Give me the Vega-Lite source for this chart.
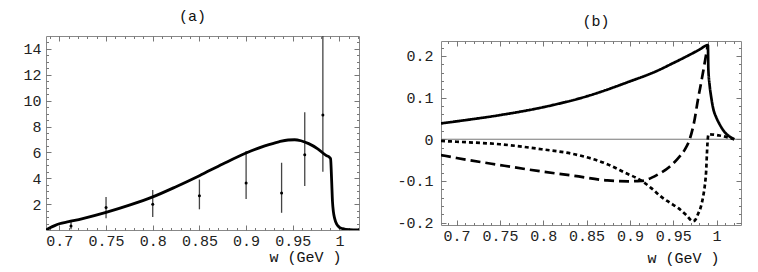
{
  "$schema": "https://vega.github.io/schema/vega-lite/v6.json",
  "background": "white",
  "padding": {"left": 22, "top": 8, "right": 0, "bottom": 15},
  "spacing": 82,
  "bounds": "flush",
  "center": true,
  "config": {
    "view": {"stroke": "#888", "strokeWidth": 1},
    "axis": {"labelFont": "Liberation Mono", "labelFontSize": 15, "labelColor": "#222", "titleFont": "Liberation Mono", "titleFontSize": 15, "titleFontWeight": "normal", "titleColor": "#111", "domain": false, "grid": false, "tickColor": "#777", "tickWidth": 1, "labelFlush": false, "labelOverlap": false},
    "title": {"font": "Liberation Mono", "fontSize": 15, "fontWeight": "normal", "anchor": "middle", "color": "#111"}
  },
  "datasets": {
    "a_curve": [
      {"w": 0.6857, "v": 0}, {"w": 0.69, "v": 0.17}, {"w": 0.695, "v": 0.34}, {"w": 0.7, "v": 0.48}, {"w": 0.71, "v": 0.64},
      {"w": 0.725, "v": 0.88}, {"w": 0.75, "v": 1.36}, {"w": 0.775, "v": 1.92}, {"w": 0.8, "v": 2.56}, {"w": 0.825, "v": 3.35},
      {"w": 0.85, "v": 4.2}, {"w": 0.875, "v": 5.1}, {"w": 0.9, "v": 5.95}, {"w": 0.92, "v": 6.5}, {"w": 0.935, "v": 6.82},
      {"w": 0.945, "v": 6.96}, {"w": 0.952, "v": 6.98}, {"w": 0.9587, "v": 6.9}, {"w": 0.967, "v": 6.68}, {"w": 0.9767, "v": 6.28},
      {"w": 0.9856, "v": 5.77}, {"w": 0.9896, "v": 5.6}, {"w": 0.9905, "v": 5.5}, {"w": 0.9915, "v": 4.0}, {"w": 0.9925, "v": 2.2},
      {"w": 0.9935, "v": 1.4}, {"w": 0.9948, "v": 0.9}, {"w": 0.997, "v": 0.45}, {"w": 1.0, "v": 0.2}, {"w": 1.0034, "v": 0.1},
      {"w": 1.0105, "v": 0.02}, {"w": 1.0209, "v": 0}
    ],
    "a_pts": [
      {"w": 0.7125, "v": 0.3, "lo": 0.05, "hi": 0.62},
      {"w": 0.75, "v": 1.74, "lo": 0.9, "hi": 2.56},
      {"w": 0.8, "v": 2.0, "lo": 1.0, "hi": 3.1},
      {"w": 0.85, "v": 2.64, "lo": 1.6, "hi": 3.9},
      {"w": 0.9, "v": 3.64, "lo": 2.4, "hi": 6.1},
      {"w": 0.938, "v": 2.87, "lo": 1.33, "hi": 5.2},
      {"w": 0.9628, "v": 5.82, "lo": 3.4, "hi": 9.1},
      {"w": 0.9822, "v": 8.9, "lo": 4.5, "hi": 15}
    ],
    "b_lines": [
      {"s": "solid", "w": 0.682, "v": 0.038}, {"s": "solid", "w": 0.7, "v": 0.043}, {"s": "solid", "w": 0.75, "v": 0.058},
      {"s": "solid", "w": 0.8, "v": 0.077}, {"s": "solid", "w": 0.85, "v": 0.103}, {"s": "solid", "w": 0.9, "v": 0.139},
      {"s": "solid", "w": 0.93, "v": 0.163}, {"s": "solid", "w": 0.95, "v": 0.183}, {"s": "solid", "w": 0.97, "v": 0.204},
      {"s": "solid", "w": 0.98, "v": 0.215}, {"s": "solid", "w": 0.99, "v": 0.226}, {"s": "solid", "w": 0.9905, "v": 0.17},
      {"s": "solid", "w": 0.992, "v": 0.13}, {"s": "solid", "w": 0.9939, "v": 0.1}, {"s": "solid", "w": 0.996, "v": 0.075},
      {"s": "solid", "w": 0.9997, "v": 0.052}, {"s": "solid", "w": 1.003, "v": 0.038}, {"s": "solid", "w": 1.009, "v": 0.018},
      {"s": "solid", "w": 1.014, "v": 0.008}, {"s": "solid", "w": 1.0204, "v": 0.0},
      {"s": "long", "w": 0.682, "v": -0.038}, {"s": "long", "w": 0.7, "v": -0.045}, {"s": "long", "w": 0.75, "v": -0.062},
      {"s": "long", "w": 0.8, "v": -0.078}, {"s": "long", "w": 0.836, "v": -0.088}, {"s": "long", "w": 0.874, "v": -0.099},
      {"s": "long", "w": 0.898, "v": -0.101}, {"s": "long", "w": 0.9135, "v": -0.1}, {"s": "long", "w": 0.932, "v": -0.085},
      {"s": "long", "w": 0.9458, "v": -0.066}, {"s": "long", "w": 0.955, "v": -0.047}, {"s": "long", "w": 0.963, "v": -0.026},
      {"s": "long", "w": 0.969, "v": 0.0}, {"s": "long", "w": 0.974, "v": 0.04}, {"s": "long", "w": 0.9785, "v": 0.095},
      {"s": "long", "w": 0.983, "v": 0.145}, {"s": "long", "w": 0.986, "v": 0.18}, {"s": "long", "w": 0.9885, "v": 0.21},
      {"s": "long", "w": 0.99, "v": 0.226},
      {"s": "short", "w": 0.682, "v": -0.004}, {"s": "short", "w": 0.7, "v": -0.006}, {"s": "short", "w": 0.75, "v": -0.012},
      {"s": "short", "w": 0.798, "v": -0.024}, {"s": "short", "w": 0.836, "v": -0.036}, {"s": "short", "w": 0.874, "v": -0.06},
      {"s": "short", "w": 0.894, "v": -0.08}, {"s": "short", "w": 0.9135, "v": -0.1}, {"s": "short", "w": 0.925, "v": -0.118},
      {"s": "short", "w": 0.936, "v": -0.138}, {"s": "short", "w": 0.9458, "v": -0.152}, {"s": "short", "w": 0.9555, "v": -0.165},
      {"s": "short", "w": 0.965, "v": -0.182}, {"s": "short", "w": 0.9728, "v": -0.197}, {"s": "short", "w": 0.976, "v": -0.192},
      {"s": "short", "w": 0.9785, "v": -0.18}, {"s": "short", "w": 0.9815, "v": -0.165}, {"s": "short", "w": 0.9843, "v": -0.14},
      {"s": "short", "w": 0.9865, "v": -0.11}, {"s": "short", "w": 0.988, "v": -0.076}, {"s": "short", "w": 0.989, "v": -0.03},
      {"s": "short", "w": 0.9895, "v": -0.01}, {"s": "short", "w": 0.9908, "v": 0.012}, {"s": "short", "w": 1.0035, "v": 0.009},
      {"s": "short", "w": 1.012, "v": 0.005}, {"s": "short", "w": 1.0204, "v": 0.0}
    ],
    "zero": [{"v": 0}]
  },
  "hconcat": [
    {
      "width": 313,
      "height": 194,
      "title": {"text": "(a)", "offset": 12, "dx": -10},
      "resolve": {"axis": {"x": "independent", "y": "independent"}},
      "layer": [
        {
          "data": {"name": "a_pts"},
          "mark": {"type": "rule", "color": "#444", "strokeWidth": 1.3, "clip": true},
          "encoding": {
            "x": {"field": "w", "type": "quantitative", "scale": {"domain": [0.6857, 1.0209], "nice": false, "zero": false}, "axis": null},
            "y": {"field": "lo", "type": "quantitative", "scale": {"domain": [0, 15], "nice": false, "zero": false}, "axis": null},
            "y2": {"field": "hi"}
          }
        },
        {
          "data": {"name": "a_pts"},
          "mark": {"type": "point", "filled": true, "color": "#000", "size": 9, "opacity": 1, "clip": true},
          "encoding": {
            "x": {"field": "w", "type": "quantitative", "scale": {"domain": [0.6857, 1.0209], "nice": false, "zero": false}, "axis": null},
            "y": {"field": "v", "type": "quantitative", "scale": {"domain": [0, 15], "nice": false, "zero": false}, "axis": null}
          }
        },
        {
          "data": {"name": "a_curve"},
          "mark": {"type": "line", "color": "#000", "strokeWidth": 2.8, "clip": true, "interpolate": "monotone"},
          "encoding": {
            "x": {"field": "w", "type": "quantitative", "scale": {"domain": [0.6857, 1.0209], "nice": false, "zero": false},
              "axis": {"orient": "bottom", "values": [0.7, 0.75, 0.8, 0.85, 0.9, 0.95, 1], "ticks": false, "labelPadding": 3, "labelExpr": "format(datum.value, '~g')", "title": "w (GeV )", "titleAnchor": "end", "titleAlign": "right", "titleX": 295, "titleY": 31.5, "titleBaseline": "alphabetic"}},
            "y": {"field": "v", "type": "quantitative", "scale": {"domain": [0, 15], "nice": false, "zero": false},
              "axis": {"orient": "left", "values": [2, 4, 6, 8, 10, 12, 14], "ticks": false, "labelPadding": 5, "title": null}}
          }
        },
        {
          "data": {"name": "a_curve"},
          "mark": {"type": "point", "opacity": 0},
          "encoding": {
            "x": {"field": "w", "type": "quantitative", "scale": {"domain": [0.6857, 1.0209], "nice": false, "zero": false},
              "axis": {"orient": "bottom", "values": [0.7, 0.75, 0.8, 0.85, 0.9, 0.95, 1], "labels": false, "tickSize": -5, "title": null}},
            "y": {"field": "v", "type": "quantitative", "scale": {"domain": [0, 15], "nice": false, "zero": false},
              "axis": {"orient": "left", "values": [2, 4, 6, 8, 10, 12, 14], "labels": false, "tickSize": -5, "title": null}}
          }
        },
        {
          "data": {"name": "a_curve"},
          "mark": {"type": "point", "opacity": 0},
          "encoding": {
            "x": {"field": "w", "type": "quantitative", "scale": {"domain": [0.6857, 1.0209], "nice": false, "zero": false},
              "axis": {"orient": "bottom", "values": [0.69, 0.7, 0.71, 0.72, 0.73, 0.74, 0.75, 0.76, 0.77, 0.78, 0.79, 0.8, 0.81, 0.82, 0.83, 0.84, 0.85, 0.86, 0.87, 0.88, 0.89, 0.9, 0.91, 0.92, 0.93, 0.94, 0.95, 0.96, 0.97, 0.98, 0.99, 1, 1.01, 1.02], "labels": false, "tickSize": -2.5, "title": null}},
            "y": {"field": "v", "type": "quantitative", "scale": {"domain": [0, 15], "nice": false, "zero": false},
              "axis": {"orient": "left", "values": [0.5, 1, 1.5, 2, 2.5, 3, 3.5, 4, 4.5, 5, 5.5, 6, 6.5, 7, 7.5, 8, 8.5, 9, 9.5, 10, 10.5, 11, 11.5, 12, 12.5, 13, 13.5, 14, 14.5], "labels": false, "tickSize": -2.5, "title": null}}
          }
        },
        {
          "data": {"name": "a_curve"},
          "mark": {"type": "point", "opacity": 0},
          "encoding": {
            "x": {"field": "w", "type": "quantitative", "scale": {"domain": [0.6857, 1.0209], "nice": false, "zero": false},
              "axis": {"orient": "top", "values": [0.7, 0.75, 0.8, 0.85, 0.9, 0.95, 1], "labels": false, "tickSize": -5, "title": null}},
            "y": {"field": "v", "type": "quantitative", "scale": {"domain": [0, 15], "nice": false, "zero": false},
              "axis": {"orient": "right", "values": [2, 4, 6, 8, 10, 12, 14], "labels": false, "tickSize": -5, "title": null}}
          }
        },
        {
          "data": {"name": "a_curve"},
          "mark": {"type": "point", "opacity": 0},
          "encoding": {
            "x": {"field": "w", "type": "quantitative", "scale": {"domain": [0.6857, 1.0209], "nice": false, "zero": false},
              "axis": {"orient": "top", "values": [0.69, 0.7, 0.71, 0.72, 0.73, 0.74, 0.75, 0.76, 0.77, 0.78, 0.79, 0.8, 0.81, 0.82, 0.83, 0.84, 0.85, 0.86, 0.87, 0.88, 0.89, 0.9, 0.91, 0.92, 0.93, 0.94, 0.95, 0.96, 0.97, 0.98, 0.99, 1, 1.01, 1.02], "labels": false, "tickSize": -2.5, "title": null}},
            "y": {"field": "v", "type": "quantitative", "scale": {"domain": [0, 15], "nice": false, "zero": false},
              "axis": {"orient": "right", "values": [0.5, 1, 1.5, 2, 2.5, 3, 3.5, 4, 4.5, 5, 5.5, 6, 6.5, 7, 7.5, 8, 8.5, 9, 9.5, 10, 10.5, 11, 11.5, 12, 12.5, 13, 13.5, 14, 14.5], "labels": false, "tickSize": -2.5, "title": null}}
          }
        }
      ]
    },
    {
      "width": 300,
      "height": 184,
      "title": {"text": "(b)", "offset": 12, "dx": 5},
      "resolve": {"axis": {"x": "independent", "y": "independent"}},
      "layer": [
        {
          "data": {"name": "zero"},
          "mark": {"type": "rule", "color": "#777", "strokeWidth": 1},
          "encoding": {
            "y": {"field": "v", "type": "quantitative", "scale": {"domain": [-0.206, 0.236], "nice": false, "zero": false}, "axis": null}
          }
        },
        {
          "data": {"name": "b_lines"},
          "mark": {"type": "line", "color": "#000", "strokeWidth": 2.7, "clip": true, "interpolate": "monotone"},
          "encoding": {
            "x": {"field": "w", "type": "quantitative", "scale": {"domain": [0.682, 1.0282], "nice": false, "zero": false},
              "axis": {"orient": "bottom", "values": [0.7, 0.75, 0.8, 0.85, 0.9, 0.95, 1], "ticks": false, "labelPadding": 3, "labelExpr": "format(datum.value, '~g')", "title": "w (GeV )", "titleAnchor": "end", "titleAlign": "right", "titleX": 278, "titleY": 37, "titleBaseline": "alphabetic"}},
            "y": {"field": "v", "type": "quantitative", "scale": {"domain": [-0.206, 0.236], "nice": false, "zero": false},
              "axis": {"orient": "left", "values": [-0.2, -0.1, 0, 0.1, 0.2], "ticks": false, "labelPadding": 8, "labelExpr": "replace(format(datum.value, '~g'), '\u2212', '-')", "title": null}},
            "strokeDash": {"field": "s", "type": "nominal", "scale": {"domain": ["solid", "long", "short"], "range": [[1, 0], [10, 5], [4, 3]]}, "legend": null}
          }
        },
        {
          "data": {"name": "b_lines"},
          "mark": {"type": "point", "opacity": 0},
          "encoding": {
            "x": {"field": "w", "type": "quantitative", "scale": {"domain": [0.682, 1.0282], "nice": false, "zero": false},
              "axis": {"orient": "bottom", "values": [0.7, 0.75, 0.8, 0.85, 0.9, 0.95, 1], "labels": false, "tickSize": -5, "title": null}},
            "y": {"field": "v", "type": "quantitative", "scale": {"domain": [-0.206, 0.236], "nice": false, "zero": false},
              "axis": {"orient": "left", "values": [-0.2, -0.1, 0, 0.1, 0.2], "labels": false, "tickSize": -5, "title": null}}
          }
        },
        {
          "data": {"name": "b_lines"},
          "mark": {"type": "point", "opacity": 0},
          "encoding": {
            "x": {"field": "w", "type": "quantitative", "scale": {"domain": [0.682, 1.0282], "nice": false, "zero": false},
              "axis": {"orient": "bottom", "values": [0.69, 0.7, 0.71, 0.72, 0.73, 0.74, 0.75, 0.76, 0.77, 0.78, 0.79, 0.8, 0.81, 0.82, 0.83, 0.84, 0.85, 0.86, 0.87, 0.88, 0.89, 0.9, 0.91, 0.92, 0.93, 0.94, 0.95, 0.96, 0.97, 0.98, 0.99, 1, 1.01, 1.02], "labels": false, "tickSize": -2.5, "title": null}},
            "y": {"field": "v", "type": "quantitative", "scale": {"domain": [-0.206, 0.236], "nice": false, "zero": false},
              "axis": {"orient": "left", "values": [-0.2, -0.18, -0.16, -0.14, -0.12, -0.1, -0.08, -0.06, -0.04, -0.02, 0, 0.02, 0.04, 0.06, 0.08, 0.1, 0.12, 0.14, 0.16, 0.18, 0.2, 0.22], "labels": false, "tickSize": -2.5, "title": null}}
          }
        },
        {
          "data": {"name": "b_lines"},
          "mark": {"type": "point", "opacity": 0},
          "encoding": {
            "x": {"field": "w", "type": "quantitative", "scale": {"domain": [0.682, 1.0282], "nice": false, "zero": false},
              "axis": {"orient": "top", "values": [0.7, 0.75, 0.8, 0.85, 0.9, 0.95, 1], "labels": false, "tickSize": -5, "title": null}},
            "y": {"field": "v", "type": "quantitative", "scale": {"domain": [-0.206, 0.236], "nice": false, "zero": false},
              "axis": {"orient": "right", "values": [-0.2, -0.1, 0, 0.1, 0.2], "labels": false, "tickSize": -5, "title": null}}
          }
        },
        {
          "data": {"name": "b_lines"},
          "mark": {"type": "point", "opacity": 0},
          "encoding": {
            "x": {"field": "w", "type": "quantitative", "scale": {"domain": [0.682, 1.0282], "nice": false, "zero": false},
              "axis": {"orient": "top", "values": [0.69, 0.7, 0.71, 0.72, 0.73, 0.74, 0.75, 0.76, 0.77, 0.78, 0.79, 0.8, 0.81, 0.82, 0.83, 0.84, 0.85, 0.86, 0.87, 0.88, 0.89, 0.9, 0.91, 0.92, 0.93, 0.94, 0.95, 0.96, 0.97, 0.98, 0.99, 1, 1.01, 1.02], "labels": false, "tickSize": -2.5, "title": null}},
            "y": {"field": "v", "type": "quantitative", "scale": {"domain": [-0.206, 0.236], "nice": false, "zero": false},
              "axis": {"orient": "right", "values": [-0.2, -0.18, -0.16, -0.14, -0.12, -0.1, -0.08, -0.06, -0.04, -0.02, 0, 0.02, 0.04, 0.06, 0.08, 0.1, 0.12, 0.14, 0.16, 0.18, 0.2, 0.22], "labels": false, "tickSize": -2.5, "title": null}}
          }
        }
      ]
    }
  ]
}
